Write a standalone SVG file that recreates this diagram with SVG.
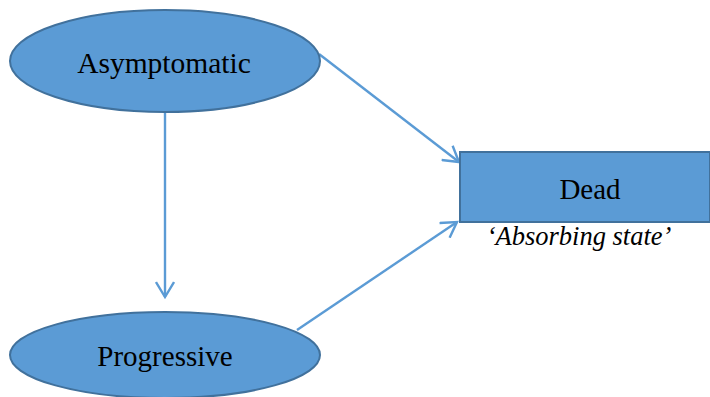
<svg xmlns="http://www.w3.org/2000/svg" width="710" height="397" viewBox="0 0 710 397">
<defs>
<style>
.node{fill:#5B9BD5;stroke:#41719C;stroke-width:2}
.lbl{fill:#000;text-anchor:middle;font-family:"Liberation Serif","Times New Roman","DejaVu Serif",serif}
.edge{stroke:#5B9BD5;stroke-width:2.4;fill:none}
</style>
<marker id="arr" markerUnits="userSpaceOnUse" markerWidth="20" markerHeight="20" refX="17" refY="10" orient="auto" viewBox="0 0 20 20">
<polyline points="2,1 17,10 2,19" fill="none" stroke="#5B9BD5" stroke-width="2.4" stroke-linejoin="miter"/>
</marker>
</defs>
<rect width="710" height="397" fill="#fff"/>
<g id="connectors">
<line class="edge" x1="319" y1="54" x2="459" y2="162" marker-end="url(#arr)"/>
<line class="edge" x1="165" y1="113" x2="165" y2="297" marker-end="url(#arr)"/>
<line class="edge" x1="297" y1="330" x2="457" y2="222" marker-end="url(#arr)"/>
</g>
<g id="asymptomatic">
<ellipse class="node" cx="165" cy="61" rx="155" ry="51"/>
<text class="lbl" x="164" y="73" font-size="29.5">Asymptomatic</text>
</g>
<g id="progressive">
<ellipse class="node" cx="165" cy="355" rx="155" ry="43"/>
<text class="lbl" x="165" y="366" font-size="29">Progressive</text>
</g>
<g id="dead">
<rect class="node" x="460" y="152" width="250" height="70"/>
<text class="lbl" x="590" y="199" font-size="29">Dead</text>
<text class="lbl" x="579" y="245" font-size="26.5" font-style="italic">‘Absorbing state’</text>
</g>
</svg>
